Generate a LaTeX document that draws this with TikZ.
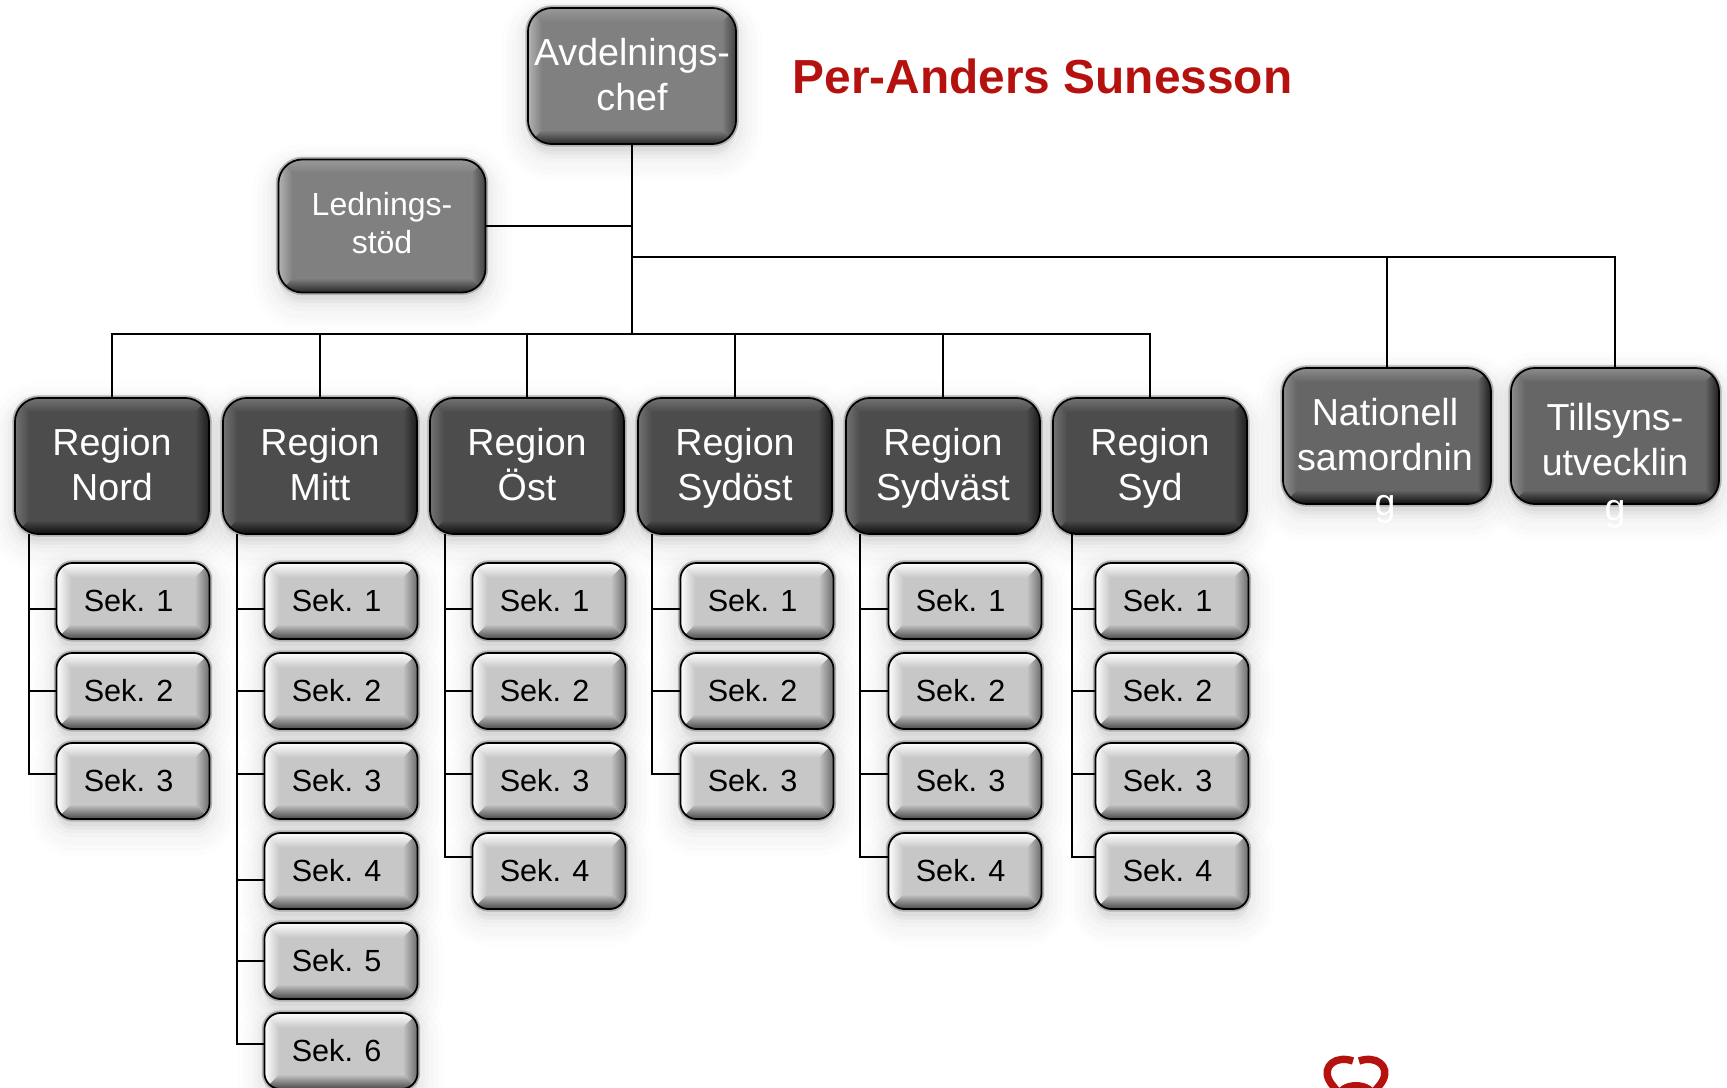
\documentclass[tikz,border=0pt]{standalone}
\usepackage{fontspec}
\setmainfont{Liberation Sans}
\definecolor{titlered}{HTML}{B5120F}
\def\ppb{path picture bounding box}
% body, top, bottom, left, right, depth
\newcommand\bevelface[6]{
	\fill[#1] (\ppb.south west) rectangle (\ppb.north east);
	\path[sharp corners,top color=#2,bottom color=#1] (\ppb.north west) -- (\ppb.north east) -- ++(-#6,-#6) -- ([shift={(#6,-#6)}]\ppb.north west) -- cycle;
	\path[sharp corners,top color=#1,bottom color=#3] (\ppb.south west) -- (\ppb.south east) -- ++(-#6,#6) -- ([shift={(#6,#6)}]\ppb.south west) -- cycle;
	\path[sharp corners,left color=#4,right color=#1] (\ppb.north west) -- (\ppb.south west) -- ++(#6,#6) -- ([shift={(#6,-#6)}]\ppb.north west) -- cycle;
	\path[sharp corners,left color=#1,right color=#5] (\ppb.north east) -- (\ppb.south east) -- ++(-#6,#6) -- ([shift={(-#6,-#6)}]\ppb.north east) -- cycle;
}
\tikzset{
	softshade/.style={
		preaction={draw=black,fill=black,opacity=.008,line width=15pt,transform canvas={yshift=-3pt}},
		preaction={draw=black,fill=black,opacity=.01,line width=12pt,transform canvas={yshift=-3pt}},
		preaction={draw=black,fill=black,opacity=.012,line width=9pt,transform canvas={yshift=-3pt}},
		preaction={draw=black,fill=black,opacity=.015,line width=6.5pt,transform canvas={yshift=-2pt}},
		preaction={draw=black,fill=black,opacity=.02,line width=4pt,transform canvas={yshift=-2pt}},
		preaction={draw=black!30,line width=1.5pt}},
	box/.style={softshade,draw=black,line width=.5pt,align=center,inner sep=0pt,text=white},
	bigbox/.style={box,rounded corners=2.4mm,minimum width=2.08cm,minimum height=1.36cm,
		font=\fontsize{10.7}{12.8}\selectfont},
	chiefbox/.style={bigbox,path picture={\bevelface{gray}{black!40}{black!85}{black!30}{black!75}{4pt}}},
	ledbox/.style={chiefbox,font=\fontsize{9.1}{10.9}\selectfont,minimum width=2.07cm,minimum height=1.33cm},
	regbox/.style={bigbox,minimum width=1.94cm,path picture={\bevelface{black!70}{black!55}{black!95}{black!55}{black!88}{4pt}}},
	natbox/.style={bigbox,path picture={\bevelface{black!60}{black!45}{black!95}{black!45}{black!88}{4pt}}},
	sekbox/.style={box,rounded corners=1.6mm,minimum width=1.53cm,minimum height=.76cm,text=black,
		font=\fontsize{8.7}{10}\selectfont,path picture={\bevelface{black!22}{white}{black!72}{white}{black!58}{4.2pt}}},
	bigtext/.style={text=white,inner sep=0pt,align=center,font=\fontsize{10.7}{12.8}\selectfont},
	link/.style={draw=black,line width=.6pt}
}

\begin{document}
\begin{tikzpicture}[x=.01cm,y=-.01cm]
	\useasboundingbox (0,0) rectangle (1727,1087);

	\node[chiefbox] (chief) at (632,76) {Avdelnings-\\chef\rule[-1pt]{0pt}{0pt}};
	\node[ledbox] (led) at (382,226) {Lednings-\\stöd\rule[-1.9pt]{0pt}{0pt}};
	\node[anchor=west,inner sep=0pt,text=titlered,font=\fontsize{13.6}{16}\selectfont\bfseries] (title) at (792,76) {Per-Anders Sunesson};

	\node[natbox] (nat) at (1387,436) {};
	\node[natbox] (till) at (1615,436) {};
	\node[bigtext] (nattext) at (1385,461) {Nationell\\samordnin\\g};
	\node[bigtext] (tilltext) at (1615,466) {Tillsyns-\\utvecklin\\g};

	\coordinate (hubhigh) at (632,257);
	\coordinate (hublow) at (632,334);
	\draw[link,line width=.8pt] (chief) -- (hublow);
	\draw[link] (led) -- (led -| chief);
	\draw[link] (hubhigh) -| (nat);
	\draw[link] (hubhigh) -| (till);

	% region, centre, column of sections, spine, name, sections with the height of their link
	\foreach \r/\cx/\sx/\spine/\name/\links in {
		1/112/133/29/Nord/{1/-.08,2/0,3/.07},
		2/320/341/237/Mitt/{1/-.08,2/0,3/.07,4/-.09,5/0,6/.07},
		3/527/549/445/Öst/{1/-.08,2/0,3/.07,4/.14},
		4/735/757/652/Sydöst/{1/-.08,2/0,3/.07},
		5/943/965/860/Sydväst/{1/-.08,2/0,3/.07,4/.14},
		6/1150/1172/1072/Syd/{1/-.08,2/0,3/.07,4/.14}}{
		\node[regbox] (reg\r) at (\cx,466) {Region\\\smash{\name}\rule[-1.2pt]{0pt}{0pt}};
		\draw[link] (hublow) -| (reg\r);
		\coordinate (top\r) at (\spine,534);
		\foreach \s/\d in \links {
			\pgfmathsetmacro\sy{601+90*(\s-1)}
			\node[sekbox] (sek\r-\s) at (\sx,\sy) {Sek. \s\kern2.5pt};
			\draw[link] (top\r) |- ([yshift=\d cm]sek\r-\s.west);
		}
	}

	% logo at the foot of the page
	\begin{scope}[titlered]
		\draw[line width=2.1pt] (1353,1061) .. controls (1336,1055) and (1322,1066) .. (1329,1080) .. controls (1331,1084) and (1334,1087) .. (1338,1092);
		\draw[line width=2.1pt] (1359,1061) .. controls (1376,1055) and (1390,1066) .. (1383,1080) .. controls (1381,1084) and (1378,1087) .. (1374,1092);
		\fill (1356,1095) ellipse (.2cm and .13cm);
	\end{scope}
\end{tikzpicture}
\end{document}
